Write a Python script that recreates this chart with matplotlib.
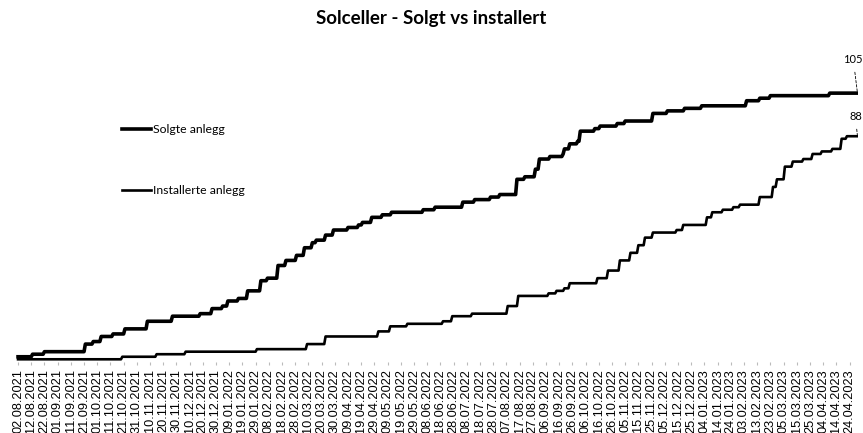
import numpy as np
import pandas as pd
import matplotlib
matplotlib.use('Agg')
import matplotlib.pyplot as plt

# cumulative counts, value changes at each date
solgt_dato = ['02.08.2021', '13.08.2021', '22.08.2021', '22.09.2021', '28.09.2021', '04.10.2021',
              '13.10.2021', '22.10.2021', '08.11.2021', '27.11.2021', '18.12.2021', '27.12.2021',
              '04.01.2022', '08.01.2022', '16.01.2022', '23.01.2022', '02.02.2022', '07.02.2022',
              '15.02.2022', '21.02.2022', '01.03.2022', '07.03.2022', '13.03.2022', '16.03.2022',
              '23.03.2022', '29.03.2022', '09.04.2022', '17.04.2022', '20.04.2022', '27.04.2022',
              '05.05.2022', '12.05.2022', '05.06.2022', '14.06.2022', '05.07.2022', '14.07.2022',
              '26.07.2022', '02.08.2022', '15.08.2022', '21.08.2022', '29.08.2022', '01.09.2022',
              '09.09.2022', '19.09.2022', '20.09.2022', '24.09.2022', '30.09.2022', '02.10.2022',
              '13.10.2022', '17.10.2022', '30.10.2022', '05.11.2022', '26.11.2022', '07.12.2022',
              '20.12.2022', '02.01.2023', '05.02.2023', '15.02.2023', '23.02.2023', '09.04.2023',
              '30.04.2023']
solgt_antall = [1, 2, 3, 6, 7, 9,
                10, 12, 15, 17, 18, 20,
                21, 23, 24, 27, 31, 32,
                37, 39, 41, 44, 46, 47,
                49, 51, 52, 53, 54, 56,
                57, 58, 59, 60, 62, 63,
                64, 65, 71, 72, 75, 79,
                80, 81, 83, 85, 86, 90,
                91, 92, 93, 94, 97, 98,
                99, 100, 102, 103, 104, 105,
                105]

installert_dato = ['02.08.2021', '20.10.2021', '15.11.2021', '07.12.2021', '30.01.2022', '09.03.2022',
                   '23.03.2022', '02.05.2022', '11.05.2022', '24.05.2022', '20.06.2022', '27.06.2022',
                   '12.07.2022', '08.08.2022', '16.08.2022', '08.09.2022', '14.09.2022', '20.09.2022',
                   '24.09.2022', '15.10.2022', '23.10.2022', '01.11.2022', '09.11.2022', '15.11.2022',
                   '20.11.2022', '26.11.2022', '14.12.2022', '19.12.2022', '06.01.2023', '10.01.2023',
                   '18.01.2023', '26.01.2023', '31.01.2023', '15.02.2023', '25.02.2023', '28.02.2023',
                   '06.03.2023', '12.03.2023', '20.03.2023', '27.03.2023', '03.04.2023', '11.04.2023',
                   '18.04.2023', '22.04.2023', '30.04.2023']
installert_antall = [0, 1, 2, 3, 4, 6,
                     9, 11, 13, 14, 15, 17,
                     18, 21, 25, 26, 27, 28,
                     30, 32, 35, 39, 42, 45,
                     48, 50, 51, 53, 56, 58,
                     59, 60, 61, 64, 68, 71,
                     76, 78, 79, 81, 82, 83,
                     87, 88, 88]

tick_start = '02.08.2021'
tick_end = '24.04.2023'


def daily(datoer, antall):
    idx = pd.to_datetime(datoer, format='%d.%m.%Y')
    s = pd.Series(antall, index=idx)
    return s.reindex(pd.date_range(idx[0], idx[-1], freq='D')).ffill()


solgt = daily(solgt_dato, solgt_antall)
installert = daily(installert_dato, installert_antall)

plt.rcParams['font.family'] = ['Lato', 'DejaVu Sans']
fig = plt.figure(figsize=(8.63, 4.33), dpi=100)
ax = fig.add_axes([15 / 863, 71 / 433, 843 / 863, 302 / 433])

ax.plot(solgt.index, solgt.values, color='black', lw=2.6, label='Solgte anlegg')
ax.plot(installert.index, installert.values, color='black', lw=1.9, label='Installerte anlegg')

t0 = pd.Timestamp(2021, 8, 2)
ax.set_xlim(t0 - pd.Timedelta(days=2.3), t0 + pd.Timedelta(days=636.4))
ax.set_ylim(-1.07, 118.07)

ticks = pd.date_range(pd.to_datetime(tick_start, format='%d.%m.%Y'),
                      pd.to_datetime(tick_end, format='%d.%m.%Y'), freq='10D')
ax.set_xticks(ticks)
ax.set_xticklabels([t.strftime('%d.%m.%Y') for t in ticks], rotation=90,
                   fontsize=9.2, family='Liberation Sans')
ax.tick_params(axis='x', length=2, color='#bbbbbb', pad=3)
ax.set_yticks([])
for sp in ax.spines.values():
    sp.set_visible(False)

# end labels
for s, off in [(solgt, (-3, 24)), (installert, (-1.5, 14))]:
    ax.annotate('%d' % s.values[-1], xy=(s.index[-1], s.values[-1]), xytext=off,
                textcoords='offset points', ha='center', va='center', fontsize=8,
                arrowprops=dict(arrowstyle='-', ls=(0, (3, 2)), lw=0.6, color='black',
                                shrinkA=3, shrinkB=0))

ax.legend(loc='upper left', bbox_to_anchor=(122 / 863, 1 - 124 / 433),
          bbox_transform=fig.transFigure, frameon=False, fontsize=8.8,
          handlelength=2.4, handletextpad=0.1, labelspacing=4.1,
          borderpad=0, borderaxespad=0)

fig.suptitle('Solceller - Solgt vs installert', fontsize=13.5, fontweight='bold',
             x=0.5, y=1 - 10 / 433, va='top')

fig.savefig('out.png', dpi=100)
